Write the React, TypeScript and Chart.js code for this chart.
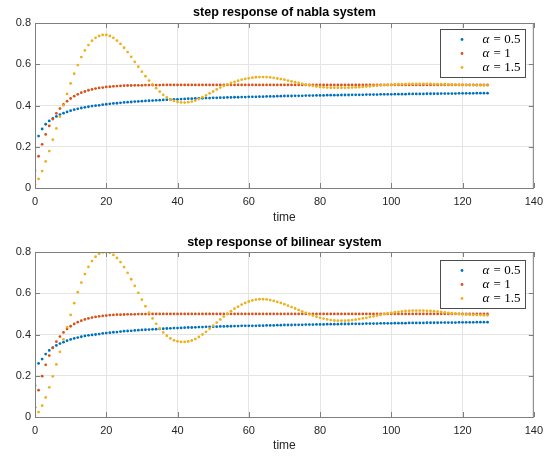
import { useEffect, useRef } from "react";
import { Chart, registerables } from "chart.js";

Chart.register(...registerables);

// time steps k = 0..127
const timeSteps: number[] = Array.from({ length: 128 }, (_, i) => i);

const xTickValues = [0, 20, 40, 60, 80, 100, 120, 140];
const yTickValues = [0, 0.2, 0.4, 0.6, 0.8];
const seriesLabels = ["0.5", "1", "1.5"];
const seriesColors = ["#0072BD", "#D95319", "#EDB120"];
const titles = ["step response of nabla system", "step response of bilinear system"];
const xLabel = "time";

// ---- nabla system ----
const nablaA05 = [
  0.195, 0.252, 0.286, 0.309, 0.325, 0.337, 0.347, 0.356, 0.363, 0.369,
  0.375, 0.380, 0.384, 0.388, 0.391, 0.394, 0.397, 0.399, 0.401, 0.404,
  0.406, 0.408, 0.410, 0.411, 0.413, 0.415, 0.416, 0.417, 0.419, 0.420,
  0.421, 0.422, 0.423, 0.424, 0.425, 0.426, 0.427, 0.428, 0.429, 0.430,
  0.430, 0.431, 0.432, 0.433, 0.433, 0.434, 0.435, 0.435, 0.436, 0.436,
  0.437, 0.437, 0.438, 0.438, 0.439, 0.439, 0.440, 0.440, 0.441, 0.441,
  0.442, 0.442, 0.442, 0.443, 0.443, 0.444, 0.444, 0.444, 0.445, 0.445,
  0.446, 0.446, 0.446, 0.447, 0.447, 0.447, 0.448, 0.448, 0.448, 0.449,
  0.449, 0.449, 0.450, 0.450, 0.450, 0.450, 0.451, 0.451, 0.451, 0.452,
  0.452, 0.452, 0.452, 0.453, 0.453, 0.453, 0.453, 0.454, 0.454, 0.454,
  0.454, 0.455, 0.455, 0.455, 0.455, 0.456, 0.456, 0.456, 0.456, 0.456,
  0.457, 0.457, 0.457, 0.457, 0.458, 0.458, 0.458, 0.458, 0.458, 0.459,
  0.459, 0.459, 0.459, 0.459, 0.460, 0.460, 0.460, 0.460,
];
const nablaA1 = [
  0.084, 0.154, 0.212, 0.260, 0.301, 0.334, 0.362, 0.385, 0.405, 0.421,
  0.434, 0.445, 0.454, 0.462, 0.468, 0.474, 0.478, 0.482, 0.485, 0.487,
  0.490, 0.491, 0.493, 0.494, 0.495, 0.496, 0.497, 0.497, 0.498, 0.498,
  0.498, 0.499, 0.499, 0.499, 0.499, 0.499, 0.5, 0.5, 0.5, 0.5,
  0.5, 0.5, 0.5, 0.5, 0.5, 0.5, 0.5, 0.5, 0.5, 0.5,
  0.5, 0.5, 0.5, 0.5, 0.5, 0.5, 0.5, 0.5, 0.5, 0.5,
  0.5, 0.5, 0.5, 0.5, 0.5, 0.5, 0.5, 0.5, 0.5, 0.5,
  0.5, 0.5, 0.5, 0.5, 0.5, 0.5, 0.5, 0.5, 0.5, 0.5,
  0.5, 0.5, 0.5, 0.5, 0.5, 0.5, 0.5, 0.5, 0.5, 0.5,
  0.5, 0.5, 0.5, 0.5, 0.5, 0.5, 0.5, 0.5, 0.5, 0.5,
  0.5, 0.5, 0.5, 0.5, 0.5, 0.5, 0.5, 0.5, 0.5, 0.5,
  0.5, 0.5, 0.5, 0.5, 0.5, 0.5, 0.5, 0.5, 0.5, 0.5,
  0.5, 0.5, 0.5, 0.5, 0.5, 0.5, 0.5, 0.5,
];
const nablaA15 = [
  0.016, 0.044, 0.082, 0.129, 0.179, 0.234, 0.289, 0.346, 0.401, 0.456,
  0.507, 0.554, 0.596, 0.635, 0.667, 0.693, 0.714, 0.728, 0.737, 0.742,
  0.742, 0.737, 0.728, 0.715, 0.699, 0.680, 0.659, 0.636, 0.612, 0.588,
  0.564, 0.542, 0.521, 0.502, 0.484, 0.467, 0.452, 0.439, 0.429, 0.422,
  0.417, 0.415, 0.414, 0.416, 0.419, 0.424, 0.431, 0.440, 0.449, 0.459,
  0.468, 0.478, 0.487, 0.495, 0.502, 0.509, 0.515, 0.520, 0.525, 0.529,
  0.532, 0.535, 0.537, 0.538, 0.538, 0.538, 0.536, 0.534, 0.531, 0.528,
  0.525, 0.521, 0.517, 0.513, 0.509, 0.505, 0.501, 0.498, 0.495, 0.492,
  0.490, 0.488, 0.487, 0.486, 0.486, 0.486, 0.486, 0.486, 0.486, 0.487,
  0.488, 0.489, 0.490, 0.492, 0.493, 0.495, 0.496, 0.498, 0.499, 0.500,
  0.501, 0.502, 0.503, 0.504, 0.504, 0.505, 0.505, 0.505, 0.505, 0.505,
  0.505, 0.505, 0.504, 0.504, 0.503, 0.503, 0.502, 0.502, 0.501, 0.500,
  0.500, 0.499, 0.499, 0.499, 0.498, 0.498, 0.498, 0.498,
];

// ---- bilinear system ----
const bilinearA05 = [
  0.153, 0.260, 0.281, 0.305, 0.323, 0.336, 0.347, 0.356, 0.363, 0.370,
  0.376, 0.381, 0.385, 0.389, 0.393, 0.396, 0.398, 0.400, 0.402, 0.405,
  0.407, 0.409, 0.411, 0.412, 0.414, 0.416, 0.417, 0.418, 0.420, 0.421,
  0.422, 0.423, 0.424, 0.425, 0.426, 0.427, 0.428, 0.429, 0.430, 0.431,
  0.431, 0.432, 0.433, 0.434, 0.434, 0.435, 0.436, 0.436, 0.437, 0.437,
  0.438, 0.438, 0.439, 0.439, 0.440, 0.440, 0.441, 0.441, 0.442, 0.442,
  0.442, 0.442, 0.442, 0.443, 0.443, 0.444, 0.444, 0.444, 0.445, 0.445,
  0.446, 0.446, 0.446, 0.447, 0.447, 0.447, 0.448, 0.448, 0.448, 0.449,
  0.449, 0.449, 0.450, 0.450, 0.450, 0.450, 0.451, 0.451, 0.451, 0.452,
  0.452, 0.452, 0.452, 0.453, 0.453, 0.453, 0.453, 0.454, 0.454, 0.454,
  0.454, 0.455, 0.455, 0.455, 0.455, 0.456, 0.456, 0.456, 0.456, 0.456,
  0.457, 0.457, 0.457, 0.457, 0.458, 0.458, 0.458, 0.458, 0.458, 0.459,
  0.459, 0.459, 0.459, 0.459, 0.460, 0.460, 0.460, 0.460,
];
const bilinearA1 = [
  0.047, 0.130, 0.198, 0.253, 0.298, 0.335, 0.365, 0.390, 0.410, 0.427,
  0.440, 0.451, 0.460, 0.467, 0.473, 0.478, 0.482, 0.485, 0.488, 0.490,
  0.492, 0.494, 0.495, 0.496, 0.496, 0.497, 0.498, 0.498, 0.498, 0.499,
  0.499, 0.499, 0.499, 0.5, 0.5, 0.5, 0.5, 0.5, 0.5, 0.5,
  0.5, 0.5, 0.5, 0.5, 0.5, 0.5, 0.5, 0.5, 0.5, 0.5,
  0.5, 0.5, 0.5, 0.5, 0.5, 0.5, 0.5, 0.5, 0.5, 0.5,
  0.5, 0.5, 0.5, 0.5, 0.5, 0.5, 0.5, 0.5, 0.5, 0.5,
  0.5, 0.5, 0.5, 0.5, 0.5, 0.5, 0.5, 0.5, 0.5, 0.5,
  0.5, 0.5, 0.5, 0.5, 0.5, 0.5, 0.5, 0.5, 0.5, 0.5,
  0.5, 0.5, 0.5, 0.5, 0.5, 0.5, 0.5, 0.5, 0.5, 0.5,
  0.5, 0.5, 0.5, 0.5, 0.5, 0.5, 0.5, 0.5, 0.5, 0.5,
  0.5, 0.5, 0.5, 0.5, 0.5, 0.5, 0.5, 0.5, 0.5, 0.5,
  0.5, 0.5, 0.5, 0.5, 0.5, 0.5, 0.5, 0.5,
];
const bilinearA15 = [
  0.006, 0.024, 0.055, 0.095, 0.144, 0.197, 0.255, 0.316, 0.376, 0.436,
  0.495, 0.552, 0.605, 0.652, 0.693, 0.728, 0.756, 0.777, 0.791, 0.798,
  0.800, 0.796, 0.786, 0.771, 0.751, 0.727, 0.699, 0.668, 0.636, 0.602,
  0.569, 0.537, 0.506, 0.478, 0.452, 0.429, 0.410, 0.394, 0.381, 0.372,
  0.367, 0.364, 0.364, 0.366, 0.371, 0.378, 0.388, 0.400, 0.413, 0.428,
  0.443, 0.458, 0.473, 0.487, 0.500, 0.513, 0.525, 0.535, 0.545, 0.553,
  0.560, 0.565, 0.569, 0.571, 0.571, 0.570, 0.567, 0.563, 0.558, 0.553,
  0.547, 0.540, 0.533, 0.526, 0.519, 0.512, 0.505, 0.498, 0.492, 0.486,
  0.481, 0.477, 0.473, 0.470, 0.468, 0.467, 0.467, 0.467, 0.468, 0.470,
  0.472, 0.475, 0.478, 0.481, 0.485, 0.488, 0.492, 0.495, 0.499, 0.502,
  0.505, 0.508, 0.510, 0.512, 0.514, 0.515, 0.516, 0.516, 0.516, 0.516,
  0.515, 0.514, 0.513, 0.511, 0.509, 0.507, 0.505, 0.503, 0.501, 0.500,
  0.498, 0.497, 0.496, 0.495, 0.494, 0.494, 0.493, 0.493,
];

const SANS = '"Liberation Sans", Arial, Helvetica, sans-serif';
const SERIF = '"Liberation Serif", "DejaVu Serif", serif';
const TEXT = "#262626";
const AXIS = "#7f7f7f";

const decorPlugin = {
  id: "matlabDecor",
  afterDraw(chart: any, _args: any, opts: any) {
    const { ctx, chartArea: a } = chart;
    const xs = chart.scales.x;
    const ys = chart.scales.y;
    ctx.save();
    // axes box
    ctx.strokeStyle = AXIS;
    ctx.lineWidth = 1;
    ctx.strokeRect(a.left + 0.5, a.top + 0.5, a.right - a.left - 1, a.bottom - a.top);
    // inward ticks
    ctx.beginPath();
    for (const v of xTickValues) {
      const px = Math.round(xs.getPixelForValue(v)) + 0.5;
      ctx.moveTo(px, a.bottom);
      ctx.lineTo(px, a.bottom - 5);
      ctx.moveTo(px, a.top);
      ctx.lineTo(px, a.top + 5);
    }
    for (const v of yTickValues) {
      const py = Math.round(ys.getPixelForValue(v)) + 0.5;
      ctx.moveTo(a.left, py);
      ctx.lineTo(a.left + 5, py);
      ctx.moveTo(a.right, py);
      ctx.lineTo(a.right - 5, py);
    }
    ctx.stroke();

    // title
    ctx.fillStyle = "#000";
    ctx.font = `bold 12.5px ${SANS}`;
    ctx.textAlign = "center";
    ctx.textBaseline = "middle";
    ctx.fillText(opts.title, (a.left + a.right) / 2, opts.titleY);

    // legend
    const lw = 85;
    const lh = 48;
    const lx = Math.round(a.right - 9 - lw) + 0.5;
    const ly = Math.round(a.top + opts.legendOffset) + 0.5;
    ctx.fillStyle = "#fff";
    ctx.fillRect(lx, ly, lw, lh);
    ctx.strokeStyle = "#4d4d4d";
    ctx.lineWidth = 1;
    ctx.strokeRect(lx, ly, lw, lh);
    ctx.textAlign = "left";
    ctx.textBaseline = "middle";
    chart.data.datasets.forEach((ds: any, i: number) => {
      const cy = ly + 10 + i * 14;
      ctx.fillStyle = ds.backgroundColor;
      ctx.beginPath();
      ctx.arc(lx + 21.5, cy, 1.4, 0, Math.PI * 2);
      ctx.fill();
      ctx.fillStyle = "#000";
      ctx.font = `italic 13px ${SERIF}`;
      const tx = lx + 42;
      ctx.fillText("α", tx, cy);
      const w = ctx.measureText("α").width;
      ctx.font = `13px ${SERIF}`;
      ctx.fillText(" = " + seriesLabels[i], tx + w + 1, cy);
    });
    ctx.restore();
  },
};

function makeConfig(series: number[][], title: string, top: number, xHeight: number, titleY: number, legendOffset: number): any {
  return {
    type: "scatter",
    data: {
      datasets: series.map((vals, i) => ({
        label: "α = " + seriesLabels[i],
        data: timeSteps.map((k, j) => ({ x: k, y: vals[j] })),
        backgroundColor: seriesColors[i],
        borderColor: seriesColors[i],
        borderWidth: 0,
        pointRadius: 1.4,
        pointHoverRadius: 1.4,
        showLine: false,
        order: 2 - i,
      })),
    },
    options: {
      animation: false,
      responsive: false,
      devicePixelRatio: 1,
      events: [],
      layout: { padding: { left: 0, right: 15, top, bottom: 0 } },
      plugins: {
        legend: { display: false },
        tooltip: { enabled: false },
        title: { display: false },
        matlabDecor: { title, titleY, legendOffset },
      },
      scales: {
        x: {
          type: "linear",
          min: 0,
          max: 140,
          afterFit: (s: any) => {
            s.height = xHeight;
          },
          afterBuildTicks: (s: any) => {
            s.ticks = xTickValues.map((v) => ({ value: v }));
          },
          ticks: {
            font: { family: SANS, size: 11 },
            color: TEXT,
            padding: 7,
            maxRotation: 0,
            autoSkip: false,
          },
          grid: { color: "#e4e4e4", lineWidth: 1, drawTicks: false },
          border: { display: false },
          title: {
            display: true,
            text: xLabel,
            font: { family: SANS, size: 12 },
            color: TEXT,
            padding: { top: 0, bottom: 2.8 },
          },
        },
        y: {
          type: "linear",
          min: 0,
          max: 0.8,
          afterFit: (s: any) => {
            s.width = 35;
          },
          afterBuildTicks: (s: any) => {
            s.ticks = yTickValues.map((v) => ({ value: v }));
          },
          ticks: {
            font: { family: SANS, size: 11 },
            color: TEXT,
            padding: 4,
            autoSkip: false,
          },
          grid: { color: "#e4e4e4", lineWidth: 1, drawTicks: false },
          border: { display: false },
        },
      },
    },
    plugins: [decorPlugin],
  };
}

export default function App() {
  const topRef = useRef<HTMLCanvasElement | null>(null);
  const botRef = useRef<HTMLCanvasElement | null>(null);

  useEffect(() => {
    const c1 = new Chart(
      topRef.current as HTMLCanvasElement,
      makeConfig([nablaA05, nablaA1, nablaA15], titles[0], 23, 40, 12.5, 6)
    );
    const c2 = new Chart(
      botRef.current as HTMLCanvasElement,
      makeConfig([bilinearA05, bilinearA1, bilinearA15], titles[1], 24, 39, 14.3, 7.5)
    );
    return () => {
      c1.destroy();
      c2.destroy();
    };
  }, []);

  return (
    <div style={{ position: "absolute", left: 0, top: 0, width: 550, height: 456, background: "#fff" }}>
      <canvas ref={topRef} width={550} height={228} style={{ display: "block", width: 550, height: 228 }} />
      <canvas ref={botRef} width={550} height={228} style={{ display: "block", width: 550, height: 228 }} />
    </div>
  );
}
